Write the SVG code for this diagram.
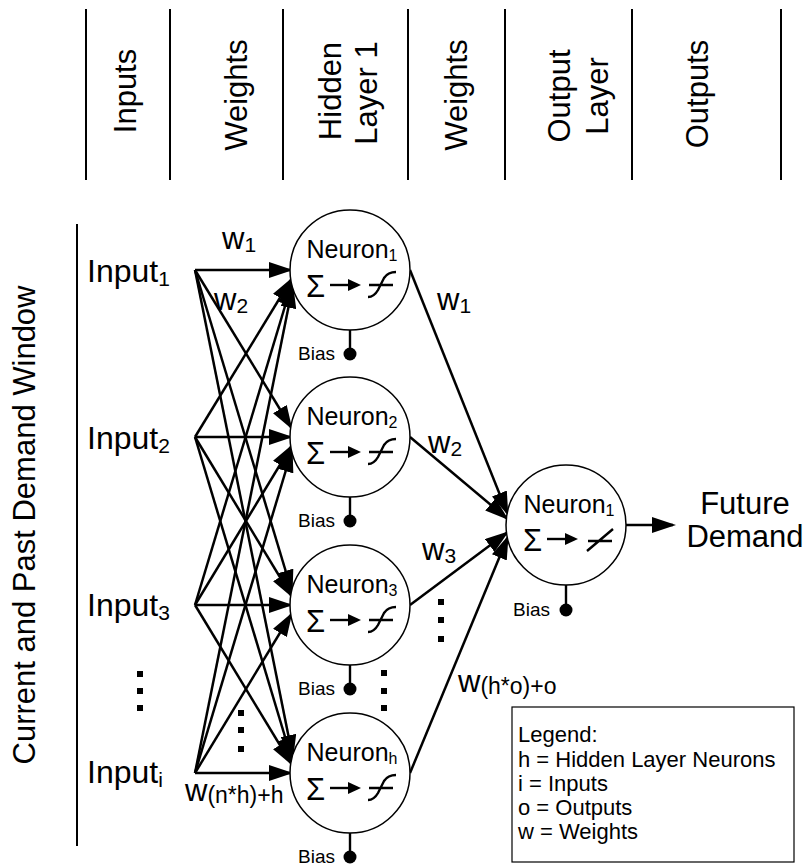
<svg xmlns="http://www.w3.org/2000/svg" width="806" height="867" viewBox="0 0 806 867">
<style>
text{font-family:"Liberation Sans",Arial,sans-serif;fill:#000}
.hd{font-size:31px;text-anchor:middle}
.big{font-size:32px}
.fd{font-size:31px;text-anchor:middle}
.sub{font-size:21px}
.wsub{font-size:23px}
.w{font-size:31px}
.nt{font-size:25px;text-anchor:middle}
.ns{font-size:16px}
.sig{font-size:31px}
.bt{font-size:19px;text-anchor:end}
.lg{font-size:22px}
.nc{fill:#fff;stroke:#000;stroke-width:1.5}
.cn{stroke:#000;stroke-width:2.5;fill:none;marker-end:url(#ah)}
.sep{stroke:#000;stroke-width:2}
.sy{stroke:#000;stroke-width:2.4;fill:none}
.bd{fill:#000}
.dot{fill:#000}
</style>
<defs>
<marker id="ah" viewBox="0 0 24 16" refX="21" refY="8" markerWidth="24" markerHeight="16" markerUnits="userSpaceOnUse" orient="auto">
<path d="M0,0 L24,8 L0,16 Z" fill="#000"/>
</marker>
</defs>
<rect width="806" height="867" fill="#fff"/>

<g id="header">
<line class="sep" x1="86" y1="9" x2="86" y2="180"/>
<line class="sep" x1="170" y1="9" x2="170" y2="180"/>
<line class="sep" x1="283" y1="9" x2="283" y2="180"/>
<line class="sep" x1="408" y1="9" x2="408" y2="180"/>
<line class="sep" x1="505" y1="9" x2="505" y2="180"/>
<line class="sep" x1="632" y1="9" x2="632" y2="180"/>
<line class="sep" x1="781" y1="9" x2="781" y2="180"/>
<text class="hd" transform="translate(136,91) rotate(-90)">Inputs</text>
<text class="hd" transform="translate(247,95) rotate(-90)">Weights</text>
<text class="hd" transform="translate(341,91) rotate(-90)">Hidden</text>
<text class="hd" transform="translate(377,93) rotate(-90)">Layer 1</text>
<text class="hd" transform="translate(467,95) rotate(-90)">Weights</text>
<text class="hd" transform="translate(570,96) rotate(-90)">Output</text>
<text class="hd" transform="translate(608,96) rotate(-90)">Layer</text>
<text class="hd" transform="translate(708,94) rotate(-90)">Outputs</text>
</g>

<g id="window">
<line class="sep" x1="77" y1="224" x2="77" y2="846"/>
<text class="hd" transform="translate(35,525) rotate(-90)">Current and Past Demand Window</text>
</g>

<g id="connectors">
<line class="cn" x1="195" y1="270" x2="290" y2="270"/>
<line class="cn" x1="195" y1="270" x2="290.8" y2="427"/>
<line class="cn" x1="195" y1="270" x2="291.7" y2="591"/>
<line class="cn" x1="195" y1="270" x2="292.5" y2="756"/>
<line class="cn" x1="195" y1="437" x2="290.8" y2="280"/>
<line class="cn" x1="195" y1="437" x2="290" y2="437"/>
<line class="cn" x1="195" y1="437" x2="290.8" y2="595"/>
<line class="cn" x1="195" y1="437" x2="291.7" y2="759"/>
<line class="cn" x1="195" y1="605" x2="291.7" y2="284"/>
<line class="cn" x1="195" y1="605" x2="290.8" y2="447"/>
<line class="cn" x1="195" y1="605" x2="290" y2="605"/>
<line class="cn" x1="195" y1="605" x2="290.8" y2="763"/>
<line class="cn" x1="195" y1="773" x2="292.5" y2="287"/>
<line class="cn" x1="195" y1="773" x2="291.7" y2="451"/>
<line class="cn" x1="195" y1="773" x2="290.8" y2="615"/>
<line class="cn" x1="195" y1="773" x2="290" y2="773"/>
<line class="cn" x1="410" y1="270" x2="507.2" y2="513"/>
<line class="cn" x1="410" y1="437" x2="506.4" y2="518"/>
<line class="cn" x1="410" y1="605" x2="506.5" y2="533"/>
<line class="cn" x1="410" y1="773" x2="507.4" y2="538"/>
<line class="cn" x1="626" y1="525" x2="673" y2="525"/>
</g>

<g id="inputs">
<text class="big" x="87" y="282">Input<tspan class="sub" dy="4">1</tspan></text>
<text class="big" x="87" y="449">Input<tspan class="sub" dy="4">2</tspan></text>
<text class="big" x="87" y="616">Input<tspan class="sub" dy="4">3</tspan></text>
<text class="big" x="87" y="783">Input<tspan class="sub" dy="4">i</tspan></text>
<rect class="dot" x="137" y="671" width="6" height="6"/>
<rect class="dot" x="137" y="688" width="6" height="6"/>
<rect class="dot" x="137" y="705" width="6" height="6"/>
</g>

<g id="weight-labels">
<text class="w" x="222" y="249">w<tspan class="sub" dy="3">1</tspan></text>
<text class="w" x="214" y="310">w<tspan class="sub" dy="3">2</tspan></text>
<text class="w" x="185" y="801">w<tspan class="wsub" dy="2">(n*h)+h</tspan></text>
<text class="w" x="437" y="310">w<tspan class="sub" dy="3">1</tspan></text>
<text class="w" x="428" y="453">w<tspan class="sub" dy="3">2</tspan></text>
<text class="w" x="422" y="560">w<tspan class="sub" dy="3">3</tspan></text>
<text class="w" x="458" y="692">w<tspan class="wsub" dy="2">(h*o)+o</tspan></text>
<rect class="dot" x="238" y="710" width="6" height="6"/>
<rect class="dot" x="238" y="727" width="6" height="6"/>
<rect class="dot" x="238" y="746" width="6" height="6"/>
<rect class="dot" x="381" y="670" width="6" height="6"/>
<rect class="dot" x="381" y="688" width="6" height="6"/>
<rect class="dot" x="381" y="705" width="6" height="6"/>
<rect class="dot" x="438" y="599" width="6" height="6"/>
<rect class="dot" x="438" y="617" width="6" height="6"/>
<rect class="dot" x="438" y="636" width="6" height="6"/>
</g>

<g id="neuron-h1" transform="translate(350,270)">
<circle class="nc" r="60"/>
<text class="nt" x="2" y="-12">Neuron<tspan class="ns" dy="3">1</tspan></text>
<text class="sig" x="-44" y="27">Σ</text>
<line class="sy" x1="-20" y1="15" x2="0" y2="15"/>
<path d="M-2,9 L11,15 L-2,21 Z" fill="#000"/>
<path class="sy" d="M18,27 Q24,27 28,20 L34,8 Q38,2 46,2 M19,15 L43,15"/>
<line class="sy" x1="0" y1="60" x2="0" y2="84"/>
<circle class="bd" cy="84" r="6.5"/>
<text class="bt" x="-15" y="90">Bias</text>
</g>

<g id="neuron-h2" transform="translate(350,437)">
<circle class="nc" r="60"/>
<text class="nt" x="2" y="-12">Neuron<tspan class="ns" dy="3">2</tspan></text>
<text class="sig" x="-44" y="27">Σ</text>
<line class="sy" x1="-20" y1="15" x2="0" y2="15"/>
<path d="M-2,9 L11,15 L-2,21 Z" fill="#000"/>
<path class="sy" d="M18,27 Q24,27 28,20 L34,8 Q38,2 46,2 M19,15 L43,15"/>
<line class="sy" x1="0" y1="60" x2="0" y2="84"/>
<circle class="bd" cy="84" r="6.5"/>
<text class="bt" x="-15" y="90">Bias</text>
</g>

<g id="neuron-h3" transform="translate(350,605)">
<circle class="nc" r="60"/>
<text class="nt" x="2" y="-12">Neuron<tspan class="ns" dy="3">3</tspan></text>
<text class="sig" x="-44" y="27">Σ</text>
<line class="sy" x1="-20" y1="15" x2="0" y2="15"/>
<path d="M-2,9 L11,15 L-2,21 Z" fill="#000"/>
<path class="sy" d="M18,27 Q24,27 28,20 L34,8 Q38,2 46,2 M19,15 L43,15"/>
<line class="sy" x1="0" y1="60" x2="0" y2="84"/>
<circle class="bd" cy="84" r="6.5"/>
<text class="bt" x="-15" y="90">Bias</text>
</g>

<g id="neuron-hh" transform="translate(350,773)">
<circle class="nc" r="60"/>
<text class="nt" x="2" y="-12">Neuron<tspan class="ns" dy="3">h</tspan></text>
<text class="sig" x="-44" y="27">Σ</text>
<line class="sy" x1="-20" y1="15" x2="0" y2="15"/>
<path d="M-2,9 L11,15 L-2,21 Z" fill="#000"/>
<path class="sy" d="M18,27 Q24,27 28,20 L34,8 Q38,2 46,2 M19,15 L43,15"/>
<line class="sy" x1="0" y1="60" x2="0" y2="84"/>
<circle class="bd" cy="84" r="6.5"/>
<text class="bt" x="-15" y="90">Bias</text>
</g>

<g id="neuron-out" transform="translate(566,525)">
<circle class="nc" r="60"/>
<text class="nt" x="3" y="-12">Neuron<tspan class="ns" dy="3">1</tspan></text>
<text class="sig" x="-43" y="26">Σ</text>
<line class="sy" x1="-19" y1="14" x2="1" y2="14"/>
<path d="M-1,8 L12,14 L-1,20 Z" fill="#000"/>
<path class="sy" d="M21,26 L47,4 M22,16 L46,16"/>
<line class="sy" x1="0" y1="60" x2="0" y2="85"/>
<circle class="bd" cy="85" r="6.5"/>
<text class="bt" x="-16" y="91">Bias</text>
</g>

<g id="future-demand">
<text class="fd" x="745" y="514">Future</text>
<text class="fd" x="745" y="547">Demand</text>
</g>

<g id="legend">
<rect x="512" y="707" width="282" height="155" fill="#fff" stroke="#000" stroke-width="1.2"/>
<text class="lg" x="518" y="742">Legend:</text>
<text class="lg" x="518" y="767">h = Hidden Layer Neurons</text>
<text class="lg" x="518" y="791">i = Inputs</text>
<text class="lg" x="518" y="815">o = Outputs</text>
<text class="lg" x="518" y="839">w = Weights</text>
</g>
</svg>
